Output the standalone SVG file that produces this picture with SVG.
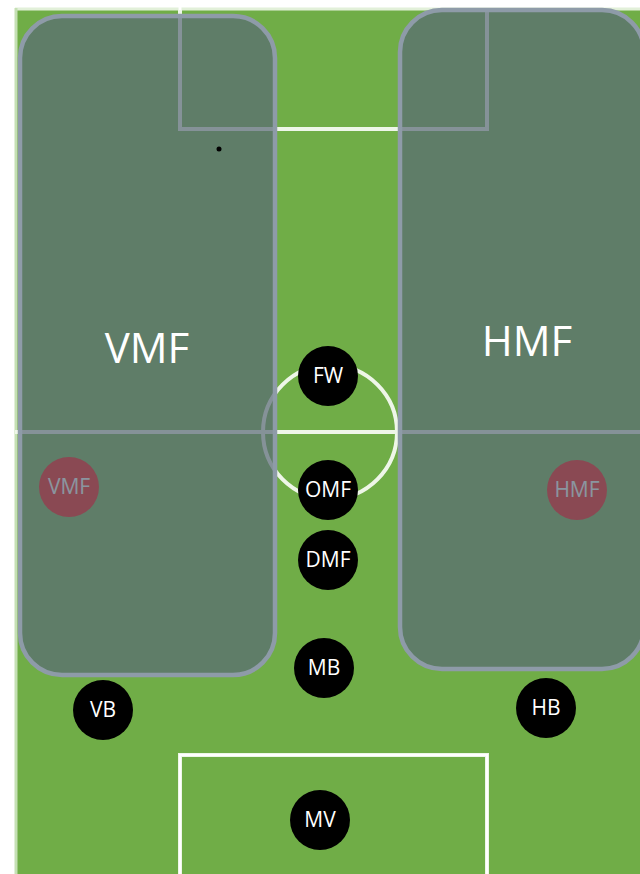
<svg xmlns="http://www.w3.org/2000/svg" width="640" height="874" viewBox="0 0 640 874">
<style>
.line{fill:none;stroke:#EEF6E8;stroke-width:4}
.ov{fill:#596876;fill-opacity:0.7;stroke:#8E9BA8;stroke-width:4.5}
.p{fill:#000000}
.pt{font-family:"Open Sans","Noto Sans",sans-serif;font-size:21px;fill:#FFFFFF;text-anchor:middle}
.big{font-family:"Open Sans","Noto Sans",sans-serif;font-size:42px;fill:#FFFFFF;text-anchor:middle}
</style>
<rect x="0" y="0" width="640" height="874" fill="#FFFFFF"/>
<g id="field">
<rect x="15" y="8" width="625" height="866" fill="#70AD47"/>
<line x1="15" y1="9" x2="640" y2="9" stroke="#E2F0D9" stroke-width="3"/>
<line x1="16" y1="8" x2="16" y2="874" stroke="#C5E0B4" stroke-width="3"/>
<line x1="180" y1="0" x2="180" y2="10" stroke="#FFFFFF" stroke-width="3"/>
<polyline class="line" points="180,10 180,129 487,129 487,10"/>
<line class="line" x1="15" y1="432" x2="640" y2="432"/>
<circle class="line" cx="330" cy="432" r="67" stroke-width="3"/>
<polyline class="line" points="180,874 180,755 487,755 487,874"/>
<polyline fill="none" stroke="#FFFFFF" stroke-width="2" points="180,874 180,755 487,755 487,874"/>
</g>
<g id="vmf-marker">
<circle cx="69" cy="487" r="30" fill="#FF0000"/>
<text class="pt" x="69" y="494">VMF</text>
</g>
<g id="hmf-marker">
<circle cx="577" cy="490" r="30" fill="#FF0000"/>
<text class="pt" x="577" y="497">HMF</text>
</g>
<g id="vmf-zone">
<rect class="ov" x="20" y="16" width="255" height="659" rx="42"/>
<text class="big" x="147" y="363">VMF</text>
</g>
<g id="hmf-zone">
<rect class="ov" x="400" y="10" width="244" height="659" rx="42"/>
<text class="big" x="527" y="356">HMF</text>
</g>
<circle cx="219" cy="149" r="2.5" fill="#000000"/>
<g id="connectors"></g>
<g id="fw"><circle class="p" cx="328" cy="376" r="30"/><text class="pt" x="328" y="383">FW</text></g>
<g id="omf"><circle class="p" cx="328" cy="490" r="30"/><text class="pt" x="328" y="497">OMF</text></g>
<g id="dmf"><circle class="p" cx="328" cy="560" r="30"/><text class="pt" x="328" y="567">DMF</text></g>
<g id="mb"><circle class="p" cx="324" cy="668" r="30"/><text class="pt" x="324" y="675">MB</text></g>
<g id="vb"><circle class="p" cx="103" cy="710" r="30"/><text class="pt" x="103" y="717">VB</text></g>
<g id="hb"><circle class="p" cx="546" cy="708" r="30"/><text class="pt" x="546" y="715">HB</text></g>
<g id="mv"><circle class="p" cx="320" cy="820" r="30"/><text class="pt" x="320" y="827">MV</text></g>
</svg>
